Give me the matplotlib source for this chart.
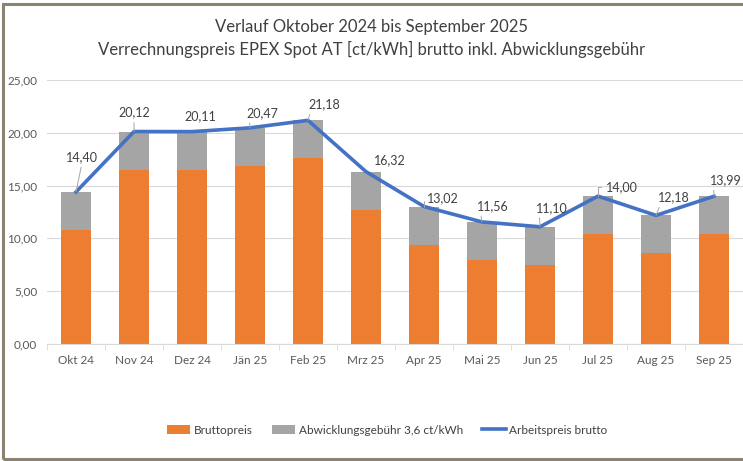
import matplotlib.pyplot as plt
import numpy as np
from matplotlib.patches import Rectangle

monate = ["Okt 24", "Nov 24", "Dez 24", "Jän 25", "Feb 25", "Mrz 25",
          "Apr 25", "Mai 25", "Jun 25", "Jul 25", "Aug 25", "Sep 25"]
arbeitspreis = [14.40, 20.12, 20.11, 20.47, 21.18, 16.32,
                13.02, 11.56, 11.10, 14.00, 12.18, 13.99]
gebuehr = [3.6] * 12
bruttopreis = [round(a - g, 2) for a, g in zip(arbeitspreis, gebuehr)]

plt.rcParams['font.family'] = ['Lato', 'DejaVu Sans']

fig = plt.figure(figsize=(7.43, 4.61), dpi=100)
ax = fig.add_axes([47 / 743, 1 - 344 / 461, 1 - 47 / 743, 264 / 461])

x = np.arange(len(monate))
b1 = ax.bar(x, bruttopreis, width=0.52, color='#ED7D31', label='Bruttopreis', zorder=2)
b2 = ax.bar(x, gebuehr, width=0.52, bottom=bruttopreis, color='#A5A5A5',
            label='Abwicklungsgebühr 3,6 ct/kWh', zorder=2)
l1, = ax.plot(x, arbeitspreis, color='#4472C4', lw=2.6, label='Arbeitspreis brutto',
              zorder=3, solid_joinstyle='round')

# Beschriftungen: (dx, dy) in Pixel, Art der Führungslinie
pos = [(6, 35, 'up'), (0, 19, 'up'), (8, 15, None), (12, 15, 'diag'),
       (16, 16, 'diag'), (24, 12, None), (19, 8, 'bracket'), (11, 16, 'diag'),
       (12, 19, 'diag'), (24, 9, 'bracket'), (18, 18, 'diag'), (12, 16, 'diag')]
for i, (v, (dx, dy, art)) in enumerate(zip(arbeitspreis, pos)):
    txt = f"{v:.2f}".replace('.', ',')
    if art is None:
        ap = None
    elif art == 'up':
        ap = dict(arrowstyle='-', color='#a6a6a6', lw=0.7, relpos=(0.5, 0),
                  shrinkA=1, shrinkB=0)
    elif art == 'diag':
        ap = dict(arrowstyle='-', color='#a6a6a6', lw=0.7, relpos=(0.1, 0.1),
                  shrinkA=1, shrinkB=0)
    else:
        ap = dict(arrowstyle='-', color='#a6a6a6', lw=0.7, relpos=(0, 0.5),
                  shrinkA=2, shrinkB=0,
                  connectionstyle='angle,angleA=180,angleB=90,rad=0')
    ax.annotate(txt, (i, v), xytext=(dx, dy), textcoords='offset pixels',
                ha='center', va='center', fontsize=9, color='#404040',
                arrowprops=ap, zorder=4)

ax.set_xlim(-0.5, len(monate) - 0.5)
ax.set_ylim(0, 25)
ax.set_yticks(np.arange(0, 26, 5))
ax.set_yticklabels([f"{t:.2f}".replace('.', ',') for t in np.arange(0, 26, 5)])
ax.set_xticks(x)
ax.set_xticklabels(monate)
ax.set_xticks(np.arange(-0.5, len(monate)), minor=True)
ax.tick_params(axis='x', which='major', length=0, pad=8, labelsize=8.5,
               labelcolor='#595959')
ax.tick_params(axis='x', which='minor', length=4, color='#d9d9d9')
ax.tick_params(axis='y', length=0, pad=7, labelsize=8.5, labelcolor='#595959')
ax.grid(axis='y', color='#d9d9d9', lw=0.8, zorder=0)
for s in ['left', 'right', 'top']:
    ax.spines[s].set_visible(False)
ax.spines['bottom'].set_color('#d9d9d9')

fig.text(0.5, 1 - 27 / 461, "Verlauf Oktober 2024 bis September 2025",
         ha='center', va='center', fontsize=12, color='#404040')
fig.text(0.5, 1 - 49 / 461,
         "Verrechnungspreis EPEX Spot AT [ct/kWh] brutto inkl. Abwicklungsgebühr",
         ha='center', va='center', fontsize=12, color='#404040')

fig.legend(handles=[b1, b2, l1], loc='center',
           bbox_to_anchor=(387 / 743, 1 - 430 / 461), ncol=3,
           frameon=False, fontsize=8.5, handlelength=2.0, handleheight=0.8,
           columnspacing=1.6, handletextpad=0.3, labelcolor='#404040')

fig.add_artist(Rectangle((3 / 743, 2 / 461), 1.2, 1 - 6 / 461,
                         transform=fig.transFigure, fill=False,
                         edgecolor='#8c8272', lw=2.2))

fig.savefig("out.png", dpi=100)
